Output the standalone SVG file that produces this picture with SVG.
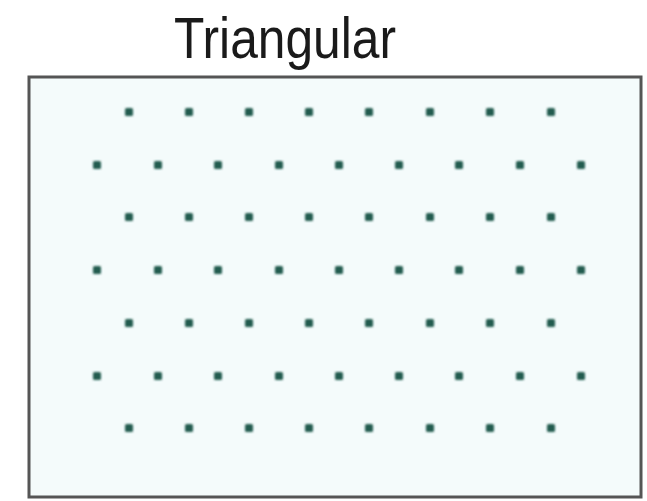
<svg xmlns="http://www.w3.org/2000/svg" width="647" height="501" viewBox="0 0 647 501">
<defs>
<style>
.t{font-family:"Liberation Sans",Arial,sans-serif;font-size:58px;fill:#1a1a1a}
.d{fill:#235c50}
</style>
<filter id="b" x="-50%" y="-50%" width="200%" height="200%"><feGaussianBlur stdDeviation="0.9"/></filter>
<symbol id="dot" overflow="visible"><rect x="-4" y="-4" width="8" height="8" rx="1.5" class="d"/></symbol>
</defs>
<rect width="647" height="501" fill="#ffffff"/>
<g id="title"><text class="t" x="285" y="58" text-anchor="middle" textLength="222" lengthAdjust="spacingAndGlyphs">Triangular</text></g>
<g id="frame"><rect x="29" y="77" width="612" height="420" fill="#f4fbfb" stroke="#555" stroke-width="3"/></g>
<g id="dots" filter="url(#b)">
<g id="row1"><use href="#dot" x="129" y="112"/><use href="#dot" x="189" y="112"/><use href="#dot" x="249" y="112"/><use href="#dot" x="309" y="112"/><use href="#dot" x="369" y="112"/><use href="#dot" x="430" y="112"/><use href="#dot" x="490" y="112"/><use href="#dot" x="551" y="112"/></g>
<g id="row2"><use href="#dot" x="97" y="165"/><use href="#dot" x="158" y="165"/><use href="#dot" x="218" y="165"/><use href="#dot" x="279" y="165"/><use href="#dot" x="339" y="165"/><use href="#dot" x="399" y="165"/><use href="#dot" x="459" y="165"/><use href="#dot" x="520" y="165"/><use href="#dot" x="581" y="165"/></g>
<g id="row3"><use href="#dot" x="129" y="217"/><use href="#dot" x="189" y="217"/><use href="#dot" x="249" y="217"/><use href="#dot" x="309" y="217"/><use href="#dot" x="369" y="217"/><use href="#dot" x="430" y="217"/><use href="#dot" x="490" y="217"/><use href="#dot" x="551" y="217"/></g>
<g id="row4"><use href="#dot" x="97" y="270"/><use href="#dot" x="158" y="270"/><use href="#dot" x="218" y="270"/><use href="#dot" x="279" y="270"/><use href="#dot" x="339" y="270"/><use href="#dot" x="399" y="270"/><use href="#dot" x="459" y="270"/><use href="#dot" x="520" y="270"/><use href="#dot" x="581" y="270"/></g>
<g id="row5"><use href="#dot" x="129" y="323"/><use href="#dot" x="189" y="323"/><use href="#dot" x="249" y="323"/><use href="#dot" x="309" y="323"/><use href="#dot" x="369" y="323"/><use href="#dot" x="430" y="323"/><use href="#dot" x="490" y="323"/><use href="#dot" x="551" y="323"/></g>
<g id="row6"><use href="#dot" x="97" y="376"/><use href="#dot" x="158" y="376"/><use href="#dot" x="218" y="376"/><use href="#dot" x="279" y="376"/><use href="#dot" x="339" y="376"/><use href="#dot" x="399" y="376"/><use href="#dot" x="459" y="376"/><use href="#dot" x="520" y="376"/><use href="#dot" x="581" y="376"/></g>
<g id="row7"><use href="#dot" x="129" y="428"/><use href="#dot" x="189" y="428"/><use href="#dot" x="249" y="428"/><use href="#dot" x="309" y="428"/><use href="#dot" x="369" y="428"/><use href="#dot" x="430" y="428"/><use href="#dot" x="490" y="428"/><use href="#dot" x="551" y="428"/></g>
</g>
</svg>
